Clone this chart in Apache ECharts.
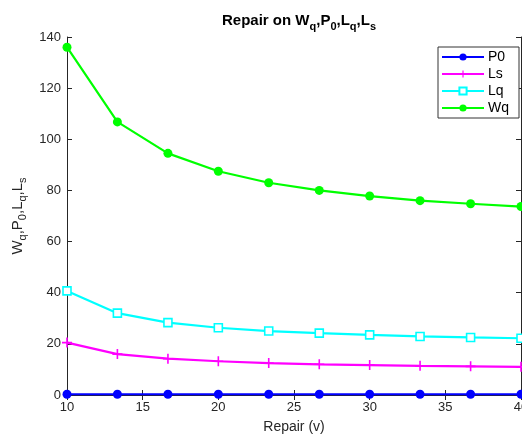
<!DOCTYPE html>
<html>
<head>
<meta charset="utf-8">
<script src="https://cdn.jsdelivr.net/npm/echarts@6/dist/echarts.min.js"></script>
<style>
html, body { margin: 0; padding: 0; background: #fff; }
#view { width: 522px; height: 439px; }
</style>
</head>
<body>
<div id="view"></div>
<script>
// repair rate v
var repair = [10, 13.33, 16.67, 20, 23.33, 26.67, 30, 33.33, 36.67, 40];
var p0 = [0.3, 0.3, 0.3, 0.3, 0.3, 0.3, 0.3, 0.3, 0.3, 0.3];
var ls = [20.5, 16.0, 14.2, 13.2, 12.5, 12.0, 11.7, 11.4, 11.2, 11.0];
var lq = [40.7, 32.0, 28.3, 26.3, 25.0, 24.2, 23.5, 22.9, 22.5, 22.2];
var wq = [136, 106.8, 94.5, 87.5, 83.0, 80.0, 77.8, 76.0, 74.8, 73.7];
var xTicks = [10, 15, 20, 25, 30, 35, 40];
var yTicks = [0, 20, 40, 60, 80, 100, 120, 140];

function pairs(ys) {
    return repair.map(function (x, i) { return [x, ys[i]]; });
}

var font = 'Liberation Sans, Arial, sans-serif';
var plus = 'path://M4.2,0h1.6v4.2h4.2v1.6h-4.2v4.2h-1.6v-4.2h-4.2v-1.6h4.2z';

var myChart = echarts.init(document.getElementById('view'));
var option = {
    backgroundColor: '#fff',
    animation: false,
    textStyle: {fontFamily: font},
    title: {
        text: '{m|Repair on W}{s|q}{m|,P}{s|0}{m|,L}{s|q}{m|,L}{s|s}',
        left: 294,
        textAlign: 'center',
        top: 5,
        textStyle: {
            rich: {
                m: {fontSize: 15, fontWeight: 'bold', color: '#000', fontFamily: font},
                s: {fontSize: 11, fontWeight: 'bold', color: '#000', fontFamily: font, padding: [11, 0, 0, 0]}
            }
        }
    },
    grid: {left: 67, right: 1, top: 37, bottom: 44, outerBoundsMode: 'none', containLabel: false},
    legend: {
        right: 3,
        top: 47,
        orient: 'vertical',
        itemWidth: 42,
        itemHeight: 9,
        itemGap: 3,
        backgroundColor: '#fff',
        borderColor: '#333',
        borderWidth: 1,
        borderRadius: 0,
        padding: [3, 10, 3, 3],
        textStyle: {fontSize: 14, lineHeight: 13, color: '#000', padding: [0, 0, 0, -1]},
        data: ['P0', 'Ls', 'Lq', 'Wq']
    },
    xAxis: [{
        type: 'value',
        min: 10,
        max: 40,
        interval: 5,
        name: 'Repair (v)',
        nameLocation: 'middle',
        nameGap: 25,
        nameTextStyle: {fontSize: 14, color: '#262626'},
        axisLine: {lineStyle: {color: '#262626'}},
        axisTick: {inside: true, length: 5, lineStyle: {color: '#262626'}},
        axisLabel: {fontSize: 13, color: '#262626', margin: 6, showMaxLabel: true},
        splitLine: {show: false}
    }, {
        type: 'value',
        min: 10,
        max: 40,
        interval: 5,
        position: 'top',
        axisLine: {lineStyle: {color: '#262626'}},
        axisTick: {inside: true, length: 5, lineStyle: {color: '#262626'}},
        axisLabel: {show: false},
        splitLine: {show: false}
    }],
    yAxis: [{
        type: 'value',
        min: 0,
        max: 140,
        interval: 20,
        name: '{m|W}{s|q}{m|,P}{s|0}{m|,L}{s|q}{m|,L}{s|s}',
        nameLocation: 'middle',
        nameGap: 32,
        nameTextStyle: {
            rich: {
                m: {fontSize: 15, color: '#262626', fontFamily: font},
                s: {fontSize: 11, color: '#262626', fontFamily: font, padding: [11, 0, 0, 0]}
            }
        },
        axisLine: {show: true, lineStyle: {color: '#262626'}},
        axisTick: {show: true, inside: true, length: 5, lineStyle: {color: '#262626'}},
        axisLabel: {fontSize: 13, color: '#262626', margin: 6},
        splitLine: {show: false}
    }, {
        type: 'value',
        min: 0,
        max: 140,
        interval: 20,
        position: 'right',
        axisLine: {show: true, lineStyle: {color: '#262626'}},
        axisTick: {show: true, inside: true, length: 5, lineStyle: {color: '#262626'}},
        axisLabel: {show: false},
        splitLine: {show: false}
    }],
    series: [{
        name: 'P0',
        type: 'line',
        data: pairs(p0),
        symbol: 'circle',
        symbolSize: 9,
        color: '#0000ff',
        lineStyle: {width: 2.2, color: '#0000ff'},
        itemStyle: {color: '#0000ff'}
    }, {
        name: 'Ls',
        type: 'line',
        data: pairs(ls),
        symbol: plus,
        symbolSize: 10,
        color: '#ff00ff',
        lineStyle: {width: 2.2, color: '#ff00ff'},
        itemStyle: {color: '#ff00ff'}
    }, {
        name: 'Lq',
        type: 'line',
        data: pairs(lq),
        symbol: 'rect',
        symbolSize: 8,
        color: '#00ffff',
        lineStyle: {width: 2.2, color: '#00ffff'},
        itemStyle: {color: '#ffffff', borderColor: '#00ffff', borderWidth: 1.6}
    }, {
        name: 'Wq',
        type: 'line',
        data: pairs(wq),
        symbol: 'circle',
        symbolSize: 9,
        color: '#00ff00',
        lineStyle: {width: 2.2, color: '#00ff00'},
        itemStyle: {color: '#00ff00'}
    }]
};
myChart.setOption(option);
</script>
</body>
</html>
